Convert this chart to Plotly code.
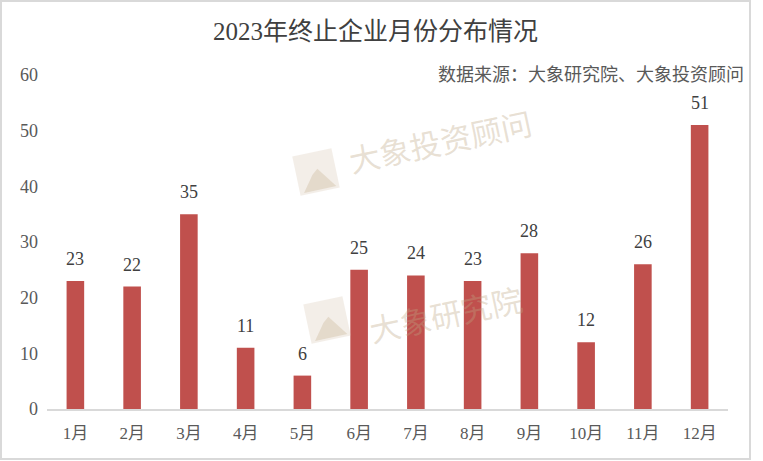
import math
import plotly.graph_objects as go

months = ["1月", "2月", "3月", "4月", "5月", "6月", "7月", "8月", "9月", "10月", "11月", "12月"]
counts = [23, 22, 35, 11, 6, 25, 24, 23, 28, 12, 26, 51]
title_text = "2023年终止企业月份分布情况"
source_text = "数据来源：大象研究院、大象投资顾问"
watermarks = ["大象投资顾问", "大象研究院"]

W, H = 763, 461
ML, MR, MT, MB = 47, 35, 75, 52
PW, PH = W - ML - MR, H - MT - MB

FONT = "Liberation Serif, Noto Sans CJK SC, serif"
BAR = "#C0504D"


def pp(px, py):
    return (px - ML) / PW, (H - MB - py) / PH


fig = go.Figure()
fig.add_trace(go.Bar(x=months, y=counts, marker_color=BAR, marker_line_width=0,
                     width=0.31, hoverinfo="x+y"))

annotations = []
for m, v in zip(months, counts):
    annotations.append(dict(x=m, y=v, xref="x", yref="y", text=str(v), showarrow=False,
                            yanchor="middle", yshift=22,
                            font=dict(family=FONT, size=18, color="#404040")))

tx, ty = pp(375, 31)
annotations.append(dict(x=tx, y=ty, xref="paper", yref="paper", text=title_text, showarrow=False,
                        xanchor="center", yanchor="middle",
                        font=dict(family=FONT, size=25, color="#404040")))
sx, sy = pp(746, 75)
annotations.append(dict(x=sx, y=sy, xref="paper", yref="paper", text=source_text, showarrow=False,
                        xanchor="right", yanchor="middle",
                        font=dict(family=FONT, size=18, color="#595959")))

shapes = []
# border
bx0, by0 = pp(1, 459)
bx1, by1 = pp(750, 1)
shapes.append(dict(type="rect", xref="paper", yref="paper", x0=bx0, y0=by0, x1=bx1, y1=by1,
                   line=dict(color="#D9D9D9", width=2), layer="below"))

ang = math.radians(-12)


def rot_path(cx, cy, pts):
    out = []
    for i, (dx, dy) in enumerate(pts):
        x = cx + dx * math.cos(ang) - dy * math.sin(ang)
        y = cy + dx * math.sin(ang) + dy * math.cos(ang)
        px, py = pp(x, y)
        out.append(("M" if i == 0 else "L") + f"{px:.5f},{py:.5f}")
    return " ".join(out) + " Z"


wm_pos = [((316, 172), (440, 140)), ((327, 320), (445, 313))]
for (lc, tc), txt in zip(wm_pos, watermarks):
    sq = [(-20, -20), (20, -20), (20, 20), (-20, 20)]
    shapes.append(dict(type="path", xref="paper", yref="paper", path=rot_path(lc[0], lc[1], sq),
                       fillcolor="rgba(215,200,180,0.3)", line=dict(width=0), layer="above"))
    tri = [(-16, 18), (17, 18), (2, -3), (-4, 2)]
    shapes.append(dict(type="path", xref="paper", yref="paper", path=rot_path(lc[0], lc[1], tri),
                       fillcolor="rgba(200,180,150,0.35)", line=dict(width=0), layer="above"))
    wx, wy = pp(tc[0], tc[1])
    annotations.append(dict(x=wx, y=wy, xref="paper", yref="paper", text=txt, showarrow=False,
                            xanchor="center", yanchor="middle", textangle=-12,
                            font=dict(family="Noto Sans CJK SC", size=31, color="rgba(190,165,130,0.35)")))

fig.update_layout(
    width=W, height=H,
    margin=dict(l=ML, r=MR, t=MT, b=MB),
    paper_bgcolor="white", plot_bgcolor="white",
    showlegend=False,
    annotations=annotations,
    shapes=shapes,
    xaxis=dict(showline=True, linecolor="#D9D9D9", linewidth=2, ticks="", showgrid=False,
               tickfont=dict(family=FONT, size=17, color="#595959"), ticklabelstandoff=8),
    yaxis=dict(range=[0, 60], dtick=10, showgrid=False, zeroline=False, showline=False, ticks="",
               tickfont=dict(family=FONT, size=18, color="#595959"), ticklabelstandoff=8),
)

fig.write_html("out.html")
